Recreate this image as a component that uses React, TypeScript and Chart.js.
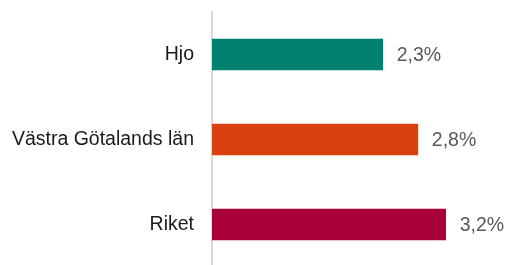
import React, { useEffect, useRef } from "react";
import { Chart, registerables } from "chart.js";

Chart.register(...registerables);

const categories = ["Hjo", "Västra Götalands län", "Riket"];
const values = [2.33, 2.81, 3.19];
const barColors = ["#00806E", "#D9410F", "#A8003A"];
const xMax = 4;

const FONT = "'Liberation Sans', Arial, sans-serif";

const valueLabels = {
  id: "valueLabels",
  afterDatasetsDraw(chart: any) {
    const ctx = chart.ctx;
    const meta = chart.getDatasetMeta(0);
    ctx.save();
    ctx.font = `19.5px ${FONT}`;
    ctx.fillStyle = "#595959";
    ctx.textAlign = "left";
    ctx.textBaseline = "middle";
    meta.data.forEach((bar: any, i: number) => {
      const v = values[i];
      const txt = v.toFixed(1).replace(".", ",") + "%";
      ctx.fillText(txt, bar.x + 14, bar.y + 1);
    });
    ctx.restore();
  },
};

export default function App() {
  const ref = useRef<HTMLCanvasElement | null>(null);
  useEffect(() => {
    if (!ref.current) return;
    const chart = new Chart(ref.current, {
      type: "bar",
      data: {
        labels: categories,
        datasets: [
          {
            data: values,
            backgroundColor: barColors,
            borderWidth: 0,
            barThickness: 31,
          },
        ],
      },
      options: {
        indexAxis: "y",
        animation: false,
        responsive: false,
        maintainAspectRatio: false,
        layout: { padding: { top: 12, right: 2, bottom: 0, left: 0 } },
        plugins: {
          legend: { display: false },
          tooltip: { enabled: false },
        },
        scales: {
          x: {
            display: false,
            min: 0,
            max: xMax,
          },
          y: {
            grid: { display: false, drawTicks: false },
            border: { display: true, color: "#D9D9D9", width: 2 },
            ticks: {
              color: "#1A1A1A",
              padding: 18,
              font: { family: FONT, size: 19.5 },
            },
            afterFit(scale: any) {
              scale.width = 212;
              scale.paddingTop = 0;
              scale.paddingBottom = 0;
            },
          },
        },
      },
      plugins: [valueLabels],
    });
    return () => chart.destroy();
  }, []);
  return (
    <div
      style={{
        position: "fixed",
        left: 0,
        top: 0,
        width: 507,
        height: 265,
        overflow: "hidden",
        background: "#fff",
      }}
    >
      <canvas ref={ref} width={507} height={267} style={{ display: "block" }} />
    </div>
  );
}
